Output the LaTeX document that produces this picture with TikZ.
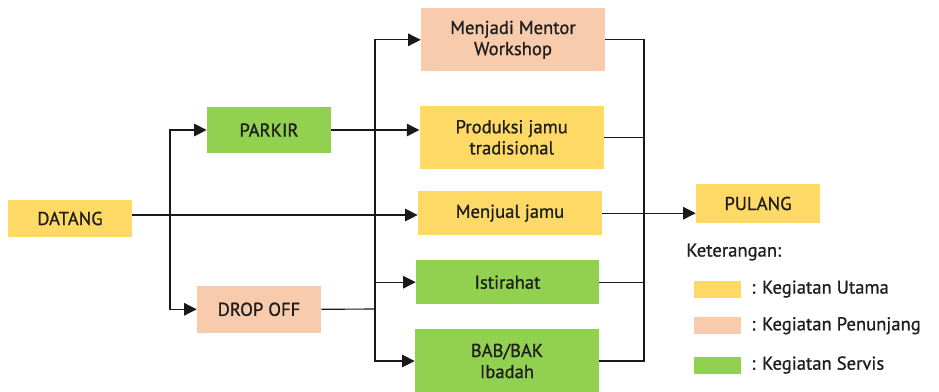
\documentclass[tikz,border=0pt]{standalone}
\usepackage{fontspec}
\setmainfont{PT Sans}[UprightFeatures={FakeBold=0.9}]
\usepackage{tikz}
\usetikzlibrary{calc,positioning,arrows.meta}

\definecolor{kuning}{RGB}{255,217,102}
\definecolor{peach}{RGB}{248,203,173}
\definecolor{hijau}{RGB}{146,208,80}
\definecolor{teks}{RGB}{30,30,30}

\begin{document}
\begin{tikzpicture}[x=0.2mm,y=-0.2mm,
  kotak/.style={inner sep=0pt,align=center,text=teks,font=\fontsize{10.6}{12}\selectfont},
  utama/.style={kotak,fill=kuning},
  penunjang/.style={kotak,fill=peach},
  servis/.style={kotak,fill=hijau},
  garis/.style={line width=0.65pt,black!90},
  >={Triangle[length=2.5mm,width=2.5mm]}]
\useasboundingbox (0,0) rectangle (939,391);
\node (datang) at (70,218.5) [utama,minimum width=24.8mm,minimum height=7.5mm] {DATANG};
\node (parkir) at (269,130) [servis,minimum width=24.8mm,minimum height=9.3mm] {PARKIR};
\node (dropoff) at (259,309.3) [penunjang,minimum width=24.8mm,minimum height=9.3mm] {DROP OFF};
\node (mentor) at (513,39.8) [penunjang,minimum width=36.8mm,minimum height=12.6mm] {Menjadi Mentor\\Workshop};
\node (produksi) at (511.7,137.3) [utama,minimum width=36.8mm,minimum height=12.5mm] {Produksi jamu\\tradisional};
\node (menjual) at (510,213.2) [utama,minimum width=36.8mm,minimum height=8.9mm] {Menjual jamu};
\node (istirahat) at (507.5,282.2) [servis,minimum width=36.6mm,minimum height=8.9mm] {Istirahat};
\node (bab) at (507,361) [servis,minimum width=36.8mm,minimum height=12.8mm] {BAB/BAK\\Ibadah};
\node (pulang) at (758,203.5) [utama,minimum width=24.8mm,minimum height=7.7mm] {PULANG};

\coordinate (kiri) at (170,215);
\coordinate (bus1) at (375,309);
\coordinate (bus2) at (644,213);
\draw[garis,->] (datang.east |- kiri) -- (kiri -| menjual.west);
\draw[garis,->] (kiri) |- (parkir.west);
\draw[garis,->] (kiri) |- (dropoff.west);
\draw[garis,->] (parkir.east) -- (parkir.east -| produksi.west);
\draw[garis] (dropoff.east) -- (bus1);
\draw[garis,->] (bus1) |- (mentor.west);
\draw[garis,->] (bus1) |- (bab.west);
\draw[garis,->] (bus1 |- istirahat.west) -- (istirahat.west);
\draw[garis] (mentor.east) -- (mentor.east -| bus2) -- (bus2 |- bab.east) -- (bab.east);
\draw[garis] (produksi.east) -- (produksi.east -| bus2);
\draw[garis] (istirahat.east) -- (istirahat.east -| bus2);
\draw[garis,->] (menjual.east) -- (menjual.east -| pulang.west);

\node (ket) at (686,252) [anchor=west,inner sep=0pt,text=teks,font=\fontsize{10.6}{12}\selectfont] {Keterangan:};
\node (s1) at (717.5,289) [utama,minimum width=9.4mm,minimum height=3.4mm] {};
\node (s2) at (717.5,325.7) [penunjang,minimum width=9.4mm,minimum height=3.4mm] {};
\node (s3) at (717.5,365) [servis,minimum width=9.4mm,minimum height=3.4mm] {};
\node at (751,289) [kotak,anchor=west] {: Kegiatan Utama};
\node at (751,325.7) [kotak,anchor=west] {: Kegiatan Penunjang};
\node at (751,365) [kotak,anchor=west] {: Kegiatan Servis};
\end{tikzpicture}
\end{document}
